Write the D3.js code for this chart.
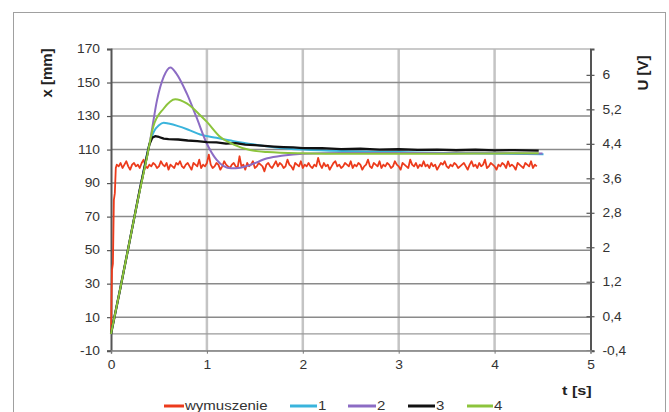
<!DOCTYPE html>
<html><head><meta charset="utf-8">
<script src="https://cdn.jsdelivr.net/npm/d3@7"></script>
<style>body{margin:0;background:#fff;} svg{display:block;font-family:"Liberation Sans",Arial,sans-serif;}</style>
</head><body><svg id="c" width="669" height="412"></svg>
<script>
// ---------- data ----------
const leftTicks = [-10, 10, 30, 50, 70, 90, 110, 130, 150, 170];
const rightTicks = [-0.4, 0.4, 1.2, 2, 2.8, 3.6, 4.4, 5.2, 6];
const xTicks = [0, 1, 2, 3, 4, 5];
const seriesNames = ["wymuszenie", "1", "2", "3", "4"];
const seriesColors = ["#ec3b1c", "#3ab4dc", "#8c6cc4", "#111111", "#8cc43c"];

// wymuszenie (excitation): initial step, then sampled values
const redT0 = [0, 0.01, 0.02, 0.03, 0.04, 0.05];
const redV0 = [0, 38, 42, 80, 84, 99];
const redStart = 0.06, redStep = 0.02;
const redV = [
 101,100,102, 99,101,103,100, 98,101,102,100,101, 99,102,104,100, 99,101,100,102,
 101, 99,100,103,101,100,102, 98,101,100, 99,102,101,103,100, 99,101,102,100, 98,
 102,101,100,104, 99,101,100,102,107,101, 99,100,102,101, 98,100,103,101,100, 99,
 101,102,100, 99,106,100,101, 98,102,100,101,103, 99,100,102,101,100, 97,101,102,
 100, 99,101,103,100,102,101, 99,100,104,101,100, 98,102,101,100,103, 99,101,100,
 102,100, 99,101,100,105,101, 99,102,100,101, 98,100,102,103,100,101, 99,100,102,
 101,100,103, 99,101,100,102,101, 98,100,101,104,100, 99,102,101,100,103, 99,101,
 100,102,101, 99,100,103,101,100, 98,102,101,100, 99,104,101,100,102, 99,101,100,
 103,100,101, 99,102,100,101, 98,100,102,101,103,100, 99,101,100,102,101, 99,100,
 101,102,100, 98,101,103,100,101, 99,102,100,101,104, 99,100,102,101,100, 98,101,
 100,102,101, 99,103,100,101,100, 98,102,101,100, 99,102,101,100,103, 99,101,100
];

// series 1
const t1 = [0, 0.1, 0.2, 0.3, 0.4, 0.45, 0.5, 0.55, 0.6, 0.7, 0.8, 0.93, 1.1, 1.28, 1.5, 1.76, 2.0, 2.5, 3.0, 3.5, 4.0, 4.51];
const v1 = [0, 28, 57, 86, 113, 121, 124.5, 126, 125.5, 124, 122, 119, 117, 115, 113, 111, 110, 109, 108.5, 108, 107.7, 107.2];
// series 2
const t2 = [0, 0.1, 0.2, 0.3, 0.41, 0.48, 0.55, 0.62, 0.68, 0.79, 0.89, 1.0, 1.1, 1.25, 1.35, 1.45, 1.63, 1.8, 2.0, 2.4, 3.0, 3.5, 4.0, 4.5];
const v2 = [0, 28, 57, 86, 116, 139.5, 153.5, 159, 155.5, 143.5, 129.5, 113.5, 104, 98.8, 99.2, 100.8, 104.8, 106.5, 107.5, 108, 108, 107.8, 107.8, 107.6];
// series 3
const t3 = [0, 0.1, 0.2, 0.3, 0.4, 0.43, 0.46, 0.5, 0.55, 0.6, 0.7, 0.8, 0.9, 1.0, 1.1, 1.2, 1.3, 1.4, 1.5, 1.6, 1.7, 1.8, 1.9, 2.0, 2.2, 2.4, 2.6, 2.8, 3.0, 3.2, 3.4, 3.6, 3.8, 4.0, 4.2, 4.46];
const v3 = [0, 28, 57, 86, 113, 117, 118, 117.5, 116.5, 116.2, 116, 115.4, 115, 114.4, 114.3, 113.6, 113.8, 113, 112.6, 112.2, 111.8, 111.5, 111.3, 110.9, 110.8, 110.3, 110.5, 110, 110.2, 109.8, 110, 109.6, 109.9, 109.5, 109.7, 109.4];
// series 4
const t4 = [0, 0.1, 0.2, 0.28, 0.37, 0.44, 0.55, 0.67, 0.79, 0.93, 1.0, 1.14, 1.28, 1.45, 1.63, 1.97, 2.5, 3.0, 3.5, 4.0, 4.46];
const v4 = [0, 28, 57, 80, 104, 123.5, 134.5, 140, 137.5, 130.5, 126.5, 117.5, 113, 109.7, 108.5, 107.8, 107.5, 107.5, 107.5, 107.7, 107.8];

// ---------- drawing ----------
const svg = d3.select("#c");
const x = d3.scaleLinear().domain([0, 5]).range([111, 590.5]);
const y = d3.scaleLinear().domain([-10, 170]).range([350.7, 49]);
const y2 = d3.scaleLinear().domain([-0.4, 6.6]).range([350.7, 49]);
const SX = 1.15;
const loc = d3.formatLocale({decimal: ",", thousands: " ", grouping: [3], currency: ["", ""], minus: "-"});
const fmtR = loc.format("~g");
const fmtI = loc.format("d");

// outer frame
svg.append("rect").attr("x", 13.5).attr("y", 12.5).attr("width", 652).attr("height", 420)
  .attr("fill", "none").attr("stroke", "#a0a0a0").attr("stroke-width", 1);

// vertical gridlines
svg.append("g").selectAll("line").data([1, 2, 3, 4]).join("line")
  .attr("x1", d => x(d)).attr("x2", d => x(d)).attr("y1", y(170)).attr("y2", y(-10))
  .attr("stroke", "#c4c4c4").attr("stroke-width", 2.5);
// horizontal gridlines
svg.append("g").selectAll("line").data(leftTicks).join("line")
  .attr("x1", x(0)).attr("x2", x(5)).attr("y1", d => y(d)).attr("y2", d => y(d))
  .attr("stroke", d => d === 170 ? "#b8b8b8" : "#8a8a8a").attr("stroke-width", 1.5);
// category axis line at 0
svg.append("line").attr("x1", x(0)).attr("x2", x(5)).attr("y1", y(0)).attr("y2", y(0))
  .attr("stroke", "#9a9a9a").attr("stroke-width", 1.3);

// left axis
const gL = svg.append("g").attr("transform", `translate(${x(0)},0)`)
  .call(d3.axisLeft(y).tickValues(leftTicks).tickSize(4).tickFormat(fmtI));
gL.select(".domain").attr("stroke", "#555").attr("stroke-width", 2);
gL.selectAll(".tick line").attr("stroke", "#555").attr("stroke-width", 1.2);
gL.selectAll(".tick text").attr("font-size", 12).attr("fill", "#333")
  .attr("x", -11 / SX).attr("transform", `scale(${SX},1)`).attr("font-family", "Liberation Sans, Arial, sans-serif");

// right axis
const gR = svg.append("g").attr("transform", `translate(${x(5)},0)`)
  .call(d3.axisRight(y2).tickValues(rightTicks).tickSize(4).tickFormat(fmtR));
gR.select(".domain").attr("stroke", "#555").attr("stroke-width", 2);
gR.selectAll(".tick line").attr("x1", -4).attr("x2", 4).attr("stroke", "#555").attr("stroke-width", 1.2);
gR.selectAll(".tick text").attr("font-size", 12).attr("fill", "#333")
  .attr("x", 12 / SX).attr("transform", `scale(${SX},1)`).attr("font-family", "Liberation Sans, Arial, sans-serif");

// bottom axis
const gB = svg.append("g").attr("transform", `translate(0,${y(-10)})`)
  .call(d3.axisBottom(x).tickValues(xTicks).tickSize(3).tickFormat(fmtI));
gB.select(".domain").attr("stroke", "#9a9a9a").attr("stroke-width", 1.5);
gB.selectAll(".tick line").attr("stroke", "#777");
gB.selectAll(".tick text").attr("font-size", 12).attr("fill", "#333").attr("y", 10)
  .attr("transform", `scale(${SX},1)`).attr("font-family", "Liberation Sans, Arial, sans-serif");

// series
const line = d3.line().x(d => x(d[0])).y(d => y(d[1]));
const smooth = d3.line().x(d => x(d[0])).y(d => y(d[1])).curve(d3.curveMonotoneX);
const redData = redT0.map((t, i) => [t, redV0[i]]).concat(redV.map((v, i) => [redStart + i * redStep, v]));
const gS = svg.append("g").attr("fill", "none").attr("stroke-linejoin", "round");
gS.append("path").attr("d", line(redData)).attr("stroke", seriesColors[0]).attr("stroke-width", 1.8);
[[t1, v1], [t2, v2], [t3, v3], [t4, v4]].forEach((s, k) => {
  const data = s[0].map((t, i) => [t, s[1][i]]);
  gS.append("path").attr("d", (k === 2 ? line : smooth)(data))
    .attr("stroke", seriesColors[k + 1]).attr("stroke-width", k === 2 ? 2.3 : 2);
});

// axis titles
svg.append("text").attr("transform", "translate(52,73) rotate(-90)").attr("text-anchor", "middle")
  .attr("font-size", 15).attr("font-weight", "bold").attr("fill", "#222").text("x [mm]");
svg.append("text").attr("transform", "translate(648,73) rotate(-90)").attr("text-anchor", "middle")
  .attr("font-size", 15).attr("font-weight", "bold").attr("fill", "#222").text("U [V]");
svg.append("text").attr("transform", "translate(562,395) scale(1.25,1)")
  .attr("font-size", 13).attr("font-weight", "bold").attr("fill", "#222").text("t [s]");

// legend
const legX = [164, 290, 348, 408, 467];
const legW = [20, 27, 28, 27, 26];
const gLeg = svg.append("g");
seriesNames.forEach((n, i) => {
  gLeg.append("line").attr("x1", legX[i]).attr("x2", legX[i] + legW[i]).attr("y1", 406).attr("y2", 406)
    .attr("stroke", seriesColors[i]).attr("stroke-width", 3);
  gLeg.append("text").attr("transform", `translate(${legX[i] + legW[i] + 1},410) scale(1.25,1)`)
    .attr("font-size", 12).attr("fill", "#333").text(n);
});
</script></body></html>
